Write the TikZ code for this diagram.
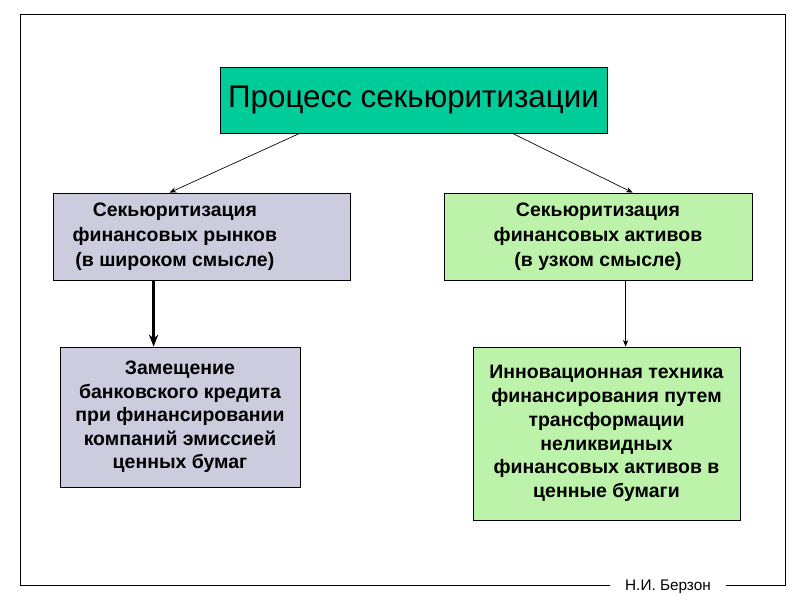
\documentclass[tikz,border=0pt]{standalone}
\usepackage{fontspec}
\setmainfont{Liberation Sans}
\usetikzlibrary{positioning,calc,arrows.meta}

\begin{document}
\begin{tikzpicture}[x=0.75pt,y=-0.75pt,
        box/.style={draw,line width=0.6pt,align=center,inner sep=0pt,
                    font=\fontsize{14.6}{17.6}\selectfont\bfseries},
        lilac/.style={box,fill=lilacfill},
        green/.style={box,fill=greenfill},
        link/.style={-{Stealth[length=5pt,width=4pt]},line width=0.5pt}]
  \definecolor{lilacfill}{HTML}{CCCCDE}
  \definecolor{greenfill}{HTML}{BDF2AA}
  \definecolor{topfill}{HTML}{00CC99}
  \useasboundingbox (0,0) rectangle (800,600);
  % frame with a gap for the signature
  \draw[line width=0.6pt] (610,585) -- (20,585) -- (20,14) -- (785,14)
        -- (785,585) -- (726,585);
  \node (sig) at (668,587) {\fontsize{11.5}{13}\selectfont Н.И. Берзон};

  \node[box,fill=topfill,minimum width=387*0.75pt,minimum height=66*0.75pt,
        font=\fontsize{23.5}{28}\selectfont] (top) at (413.5,100)
        {Процесс секьюритизации};
  \node[lilac,minimum width=297*0.75pt,minimum height=87*0.75pt,
        font=\fontsize{14.6}{18.8}\selectfont\bfseries] (wide) at (201.5,236.5)
        {\hspace*{-40pt}Секьюритизация\\\hspace*{-40pt}финансовых рынков\\\hspace*{-40pt}(в широком смысле)};
  \node[green,minimum width=308*0.75pt,minimum height=87*0.75pt,
        font=\fontsize{14.6}{18.8}\selectfont\bfseries] (narrow) at (598,236.5)
        {Секьюритизация\\финансовых активов\\(в узком смысле)};
  \node[lilac,minimum width=240*0.75pt,minimum height=140*0.75pt] (subst) at (180,417)
        {Замещение\\банковского кредита\\при финансировании\\компаний эмиссией\\ценных бумаг};
  \node[green,minimum width=267*0.75pt,minimum height=173*0.75pt,
        font=\fontsize{14.6}{17.8}\selectfont\bfseries] (innov) at (606.5,433.5)
        {Инновационная техника\\финансирования путем\\трансформации\\неликвидных\\финансовых активов в\\ценные бумаги};

  \draw[link] ($(top.south west)+(80,0)$) -- ($(wide.north west)+(117,0)$);
  \draw[link] ($(top.south west)+(293,0)$) -- ($(narrow.north west)+(189,0)$);
  \draw[-{Stealth[length=9pt,width=7pt]},line width=2.2pt]
        ($(wide.south west)+(101,0)$) -- ($(subst.north west)+(94,0)$);
  \draw[link] ($(narrow.south west)+(182,0)$) -- ($(innov.north west)+(153,0)$);
\end{tikzpicture}
\end{document}
